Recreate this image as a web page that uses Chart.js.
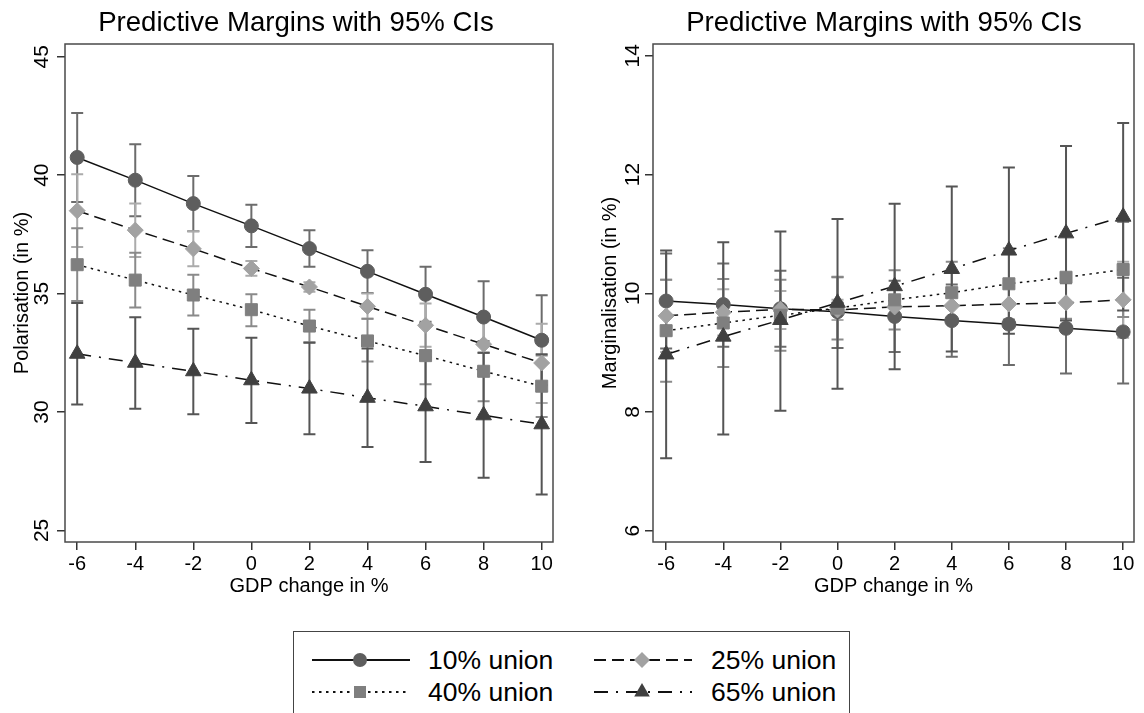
<!DOCTYPE html>
<html><head><meta charset="utf-8">
<script src="https://cdn.jsdelivr.net/npm/chart.js@4.4.0/dist/chart.umd.min.js"></script>
<style>
html,body{margin:0;padding:0;background:#fff;width:1144px;height:713px;overflow:hidden;font-family:'Liberation Sans',Arial,sans-serif;}
canvas{position:absolute;top:0;}
#c1{left:0;} #c2{left:572px;}
#legend{position:absolute;left:293px;top:631px;width:557px;height:100px;border:1.5px solid #444;box-sizing:border-box;}
.li{position:absolute;height:30px;}
.li svg{position:absolute;left:0;top:0;}
.li span{position:absolute;top:0;line-height:30px;font-size:26.5px;color:#000;white-space:nowrap;}
</style></head><body>
<canvas id="c1" width="572" height="610"></canvas>
<canvas id="c2" width="572" height="610"></canvas>
<div id="legend"></div>
<script>
// ---------- data ----------
const gdp = [-6, -4, -2, 0, 2, 4, 6, 8, 10];
const gdpTicks = [-6, -4, -2, 0, 2, 4, 6, 8, 10];
const polTicks = [25, 30, 35, 40, 45];
const margTicks = [6, 8, 10, 12, 14];
const seriesNames = ['10% union', '25% union', '40% union', '65% union'];
const titleText = 'Predictive Margins with 95% CIs';
const xTitle = 'GDP change in %';
const polTitle = 'Polarisation (in %)';
const margTitle = 'Marginalisation (in %)';

// Polarisation
const pol10   = [40.75, 39.79, 38.80, 37.86, 36.90, 35.94, 34.97, 34.01, 33.03];
const pol10Lo = [38.87, 38.27, 37.63, 36.97, 36.13, 35.03, 33.81, 32.50, 31.13];
const pol10Hi = [42.63, 41.31, 39.97, 38.75, 37.68, 36.83, 36.13, 35.52, 34.93];
const pol25   = [38.50, 37.68, 36.89, 36.06, 35.28, 34.46, 33.66, 32.86, 32.07];
const pol25Lo = [36.97, 36.55, 36.15, 35.75, 35.08, 33.94, 32.75, 31.60, 30.38];
const pol25Hi = [40.04, 38.80, 37.63, 36.38, 35.48, 35.00, 34.58, 34.10, 33.73];
const pol40   = [36.22, 35.57, 34.94, 34.32, 33.63, 33.00, 32.38, 31.72, 31.09];
const pol40Lo = [34.69, 34.41, 34.07, 33.62, 32.94, 32.13, 31.17, 30.45, 29.79];
const pol40Hi = [37.76, 36.72, 35.80, 34.97, 34.32, 33.94, 33.60, 33.00, 32.39];
const pol65   = [32.46, 32.08, 31.72, 31.34, 30.99, 30.60, 30.24, 29.86, 29.48];
const pol65Lo = [30.32, 30.14, 29.90, 29.54, 29.06, 28.52, 27.89, 27.22, 26.52];
const pol65Hi = [34.60, 34.00, 33.52, 33.13, 32.92, 32.68, 32.59, 32.50, 32.44];

// Marginalisation
const mar10   = [9.87, 9.81, 9.74, 9.69, 9.61, 9.54, 9.48, 9.41, 9.35];
const mar10Lo = [9.07, 9.10, 9.10, 9.08, 9.01, 8.93, 8.79, 8.65, 8.48];
const mar10Hi = [10.67, 10.50, 10.38, 10.27, 10.21, 10.15, 10.17, 10.17, 10.26];
const mar25   = [9.62, 9.68, 9.73, 9.72, 9.77, 9.79, 9.82, 9.84, 9.89];
const mar25Lo = [9.01, 9.29, 9.40, 9.55, 9.62, 9.59, 9.52, 9.40, 9.25];
const mar25Hi = [10.23, 10.07, 10.04, 9.89, 9.92, 9.99, 10.12, 10.28, 10.53];
const mar40   = [9.37, 9.50, 9.63, 9.75, 9.89, 10.01, 10.16, 10.27, 10.40];
const mar40Lo = [8.51, 8.76, 9.03, 9.22, 9.39, 9.49, 9.56, 9.57, 9.60];
const mar40Hi = [10.23, 10.24, 10.23, 10.28, 10.39, 10.53, 10.76, 10.97, 11.20];
const mar65   = [8.97, 9.27, 9.55, 9.84, 10.12, 10.41, 10.72, 11.01, 11.29];
const mar65Lo = [7.22, 7.62, 8.02, 8.39, 8.72, 9.02, 9.32, 9.54, 9.71];
const mar65Hi = [10.72, 10.86, 11.04, 11.25, 11.51, 11.80, 12.12, 12.48, 12.87];

// ---------- styles ----------
const FONT = "'Liberation Sans', Arial, sans-serif";
const styles = [
  {marker: '#5e5e5e', ci: '#6c6c6c', dash: [], point: 'circle', r: 7, order: 4},
  {marker: '#a2a2a2', ci: '#ababab', dash: [12, 6], point: 'rectRot', r: 8, order: 3},
  {marker: '#7f7f7f', ci: '#8a8a8a', dash: [2.5, 4.5], point: 'rect', r: 8.5, order: 2},
  {marker: '#404040', ci: '#555555', dash: [14, 8, 2, 8], point: 'triangle', r: 9, order: 1}
];

function makeDatasets(vals, los, his) {
  return vals.map((v, k) => ({
    label: seriesNames[k],
    data: gdp.map((x, i) => ({x: x, y: v[i]})),
    ciLo: los[k], ciHi: his[k],
    ciColor: styles[k].ci,
    borderColor: '#111',
    borderWidth: 1.5,
    borderDash: styles[k].dash,
    pointStyle: styles[k].point,
    pointRadius: styles[k].r,
    pointBackgroundColor: styles[k].marker,
    pointBorderColor: styles[k].marker,
    pointBorderWidth: 1,
    tension: 0,
    fill: false,
    order: styles[k].order
  }));
}

const decor = {
  id: 'decor',
  beforeDatasetsDraw(chart, args, opts) {
    const ctx = chart.ctx, xs = chart.scales.x, ys = chart.scales.y;
    chart.data.datasets.forEach(ds => {
      ctx.save();
      ctx.strokeStyle = ds.ciColor;
      ctx.lineWidth = 2;
      ds.data.forEach((p, i) => {
        const px = xs.getPixelForValue(p.x);
        const pl = ys.getPixelForValue(ds.ciLo[i]);
        const ph = ys.getPixelForValue(ds.ciHi[i]);
        ctx.beginPath();
        ctx.moveTo(px, pl); ctx.lineTo(px, ph);
        ctx.moveTo(px - 6, pl); ctx.lineTo(px + 6, pl);
        ctx.moveTo(px - 6, ph); ctx.lineTo(px + 6, ph);
        ctx.stroke();
      });
      ctx.restore();
    });
  },
  afterDraw(chart, args, opts) {
    const ctx = chart.ctx, a = chart.chartArea, ys = chart.scales.y;
    ctx.save();
    ctx.strokeStyle = '#4a4a4a';
    ctx.lineWidth = 1.5;
    ctx.strokeRect(a.left, a.top, a.right - a.left, a.bottom - a.top);
    // rotated y tick labels
    ctx.fillStyle = '#000';
    ctx.font = '21px ' + FONT;
    ctx.textAlign = 'center';
    ctx.textBaseline = 'middle';
    opts.yTicks.forEach(t => {
      const py = ys.getPixelForValue(t);
      ctx.save();
      ctx.translate(opts.yLabelX, py);
      ctx.rotate(-Math.PI / 2);
      ctx.fillText(String(t), 0, 0);
      ctx.restore();
    });
    // title
    ctx.font = '27.6px ' + FONT;
    ctx.textBaseline = 'alphabetic';
    ctx.fillText(opts.title, opts.titleX, 31);
    ctx.restore();
  }
};

function makeChart(id, cfg) {
  return new Chart(document.getElementById(id), {
    type: 'line',
    data: {datasets: cfg.datasets},
    plugins: [decor],
    options: {
      responsive: false,
      animation: false,
      devicePixelRatio: 1,
      layout: {padding: {top: 44, left: 0, right: cfg.padRight, bottom: 0}},
      plugins: {
        legend: {display: false},
        tooltip: {enabled: false},
        title: {display: false},
        decor: {yTicks: cfg.yTicks, yLabelX: cfg.yLabelX, title: titleText, titleX: cfg.titleX}
      },
      scales: {
        x: {
          type: 'linear', min: cfg.xMin, max: cfg.xMax,
          afterBuildTicks: s => { s.ticks = gdpTicks.map(v => ({value: v})); },
          afterFit: s => { s.height = 68; },
          border: {display: false},
          grid: {display: true, drawOnChartArea: false, drawTicks: true, tickLength: 8, color: '#333', lineWidth: 1.5},
          ticks: {color: '#000', font: {size: 20, family: FONT}, padding: 2, maxRotation: 0, autoSkip: false,
                  callback: v => String(v)},
          title: {display: true, text: xTitle, color: '#000', font: {size: 20, family: FONT}, padding: {top: 0, bottom: 12}}
        },
        y: {
          type: 'linear', min: cfg.yMin, max: cfg.yMax,
          afterBuildTicks: s => { s.ticks = cfg.yTicks.map(v => ({value: v})); },
          afterFit: s => { s.width = cfg.yWidth; },
          border: {display: false},
          grid: {display: true, drawOnChartArea: false, drawTicks: true, tickLength: 8, color: '#333', lineWidth: 1.5},
          ticks: {display: false},
          title: {display: true, text: cfg.yTitle, color: '#000', font: {size: 20, family: FONT}, padding: {top: cfg.yTitlePad, bottom: 0}}
        }
      }
    }
  });
}

makeChart('c1', {
  datasets: makeDatasets([pol10, pol25, pol40, pol65], [pol10Lo, pol25Lo, pol40Lo, pol65Lo], [pol10Hi, pol25Hi, pol40Hi, pol65Hi]),
  yTicks: polTicks, yMin: 24.51, yMax: 45.54, xMin: -6.42, xMax: 10.39,
  yWidth: 65, padRight: 19, yLabelX: 42, titleX: 296, yTitle: polTitle, yTitlePad: 10
});
makeChart('c2', {
  datasets: makeDatasets([mar10, mar25, mar40, mar65], [mar10Lo, mar25Lo, mar40Lo, mar65Lo], [mar10Hi, mar25Hi, mar40Hi, mar65Hi]),
  yTicks: margTicks, yMin: 5.81, yMax: 14.2, xMin: -6.46, xMax: 10.38,
  yWidth: 81, padRight: 3, yLabelX: 61, titleX: 312, yTitle: margTitle, yTitlePad: 26
});

// ---------- legend ----------
const legendPos = [
  {x: 312, y: 645, tx: 428}, {x: 594, y: 645, tx: 711},
  {x: 312, y: 677, tx: 428}, {x: 594, y: 677, tx: 711}
];
function markerSvg(k, cx, cy) {
  const c = styles[k].marker;
  if (k === 0) return `<circle cx="${cx}" cy="${cy}" r="7" fill="${c}"/>`;
  if (k === 1) return `<polygon points="${cx},${cy-8} ${cx+8},${cy} ${cx},${cy+8} ${cx-8},${cy}" fill="${c}"/>`;
  if (k === 2) return `<rect x="${cx-6}" y="${cy-6}" width="12" height="12" fill="${c}"/>`;
  return `<polygon points="${cx},${cy-9} ${cx+7.8},${cy+4.5} ${cx-7.8},${cy+4.5}" fill="${c}"/>`;
}
const body = document.body;
seriesNames.forEach((name, k) => {
  const p = legendPos[k];
  const d = document.createElement('div');
  d.className = 'li';
  d.style.left = p.x + 'px'; d.style.top = p.y + 'px';
  d.style.width = '260px';
  const dash = styles[k].dash.length ? `stroke-dasharray="${styles[k].dash.join(',')}"` : '';
  d.innerHTML = `<svg width="104" height="30"><line x1="0" y1="15" x2="98" y2="15" stroke="#111" stroke-width="1.8" ${dash}/>${markerSvg(k, 48, 15)}</svg><span style="left:${p.tx - p.x}px">${name}</span>`;
  body.appendChild(d);
});
</script></body></html>
